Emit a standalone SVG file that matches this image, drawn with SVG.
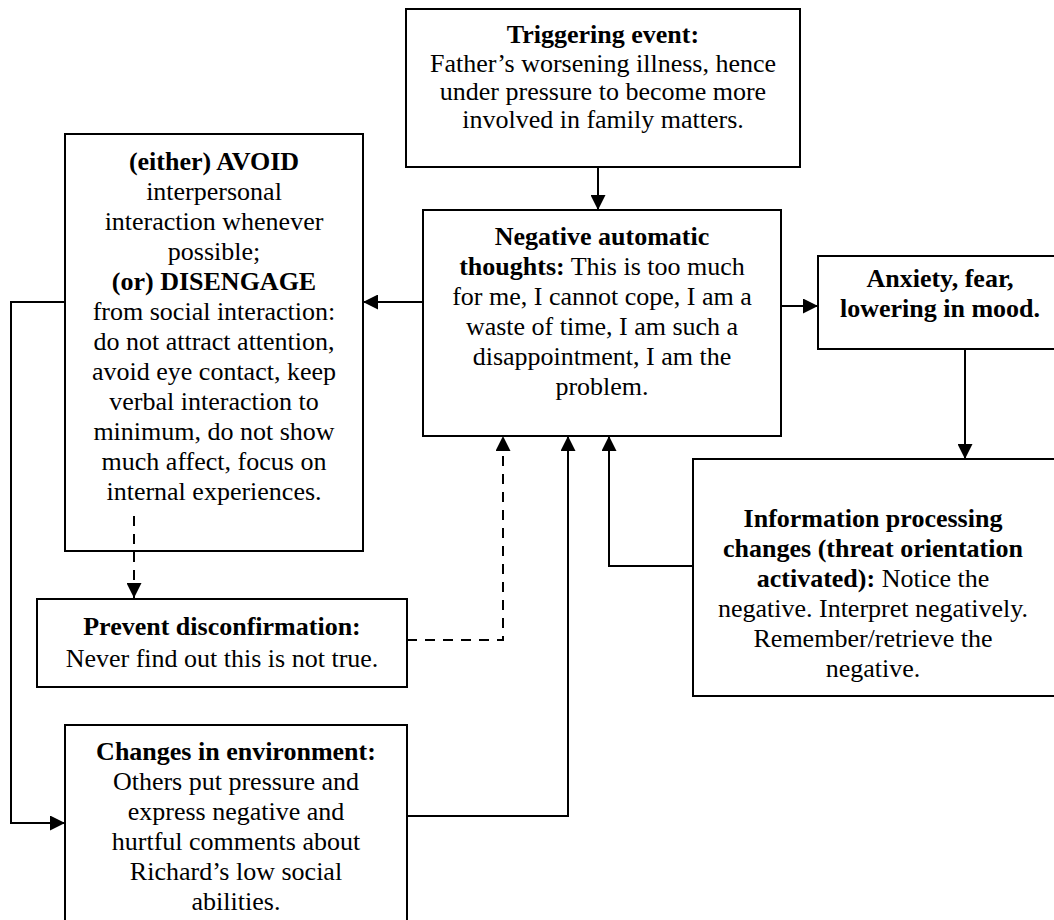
<svg xmlns="http://www.w3.org/2000/svg" width="1054" height="920" viewBox="0 0 1054 920">
<style>
.box{fill:#fff;stroke:#000;stroke-width:2}
.t{font-family:"Liberation Serif","Times New Roman",serif;font-size:26px;fill:#000;text-anchor:middle}
.b{font-weight:bold}
.c{fill:none;stroke:#000;stroke-width:2}
.d{fill:none;stroke:#000;stroke-width:2;stroke-dasharray:10,8}
</style>
<defs>
<marker id="ah" viewBox="0 0 15 15" refX="15" refY="7.5" markerWidth="15" markerHeight="15" orient="auto" markerUnits="userSpaceOnUse">
<path d="M0,0 L15,7.5 L0,15 z" fill="#000"/>
</marker>
</defs>
<rect width="1054" height="920" fill="#fff"/>
<g id="trigger">
<rect class="box" x="406" y="9" width="394" height="158"/>
<text class="t" x="603"><tspan class="b" x="603" y="43">Triggering event:</tspan><tspan x="603" y="72">Father’s worsening illness, hence</tspan><tspan x="603" y="100">under pressure to become more</tspan><tspan x="603" y="128">involved in family matters.</tspan></text>
</g>
<g id="negative">
<rect class="box" x="423" y="210" width="358" height="226"/>
<text class="t" x="602"><tspan class="b" x="602" y="245">Negative automatic</tspan><tspan x="602" y="275"><tspan class="b">thoughts:</tspan> This is too much</tspan><tspan x="602" y="305">for me, I cannot cope, I am a</tspan><tspan x="602" y="335">waste of time, I am such a</tspan><tspan x="602" y="365">disappointment, I am the</tspan><tspan x="602" y="395">problem.</tspan></text>
</g>
<g id="avoid">
<rect class="box" x="65" y="134" width="298" height="417"/>
<text class="t" x="214"><tspan class="b" x="214" y="170">(either) AVOID</tspan><tspan x="214" y="200">interpersonal</tspan><tspan x="214" y="230">interaction whenever</tspan><tspan x="214" y="260">possible;</tspan><tspan class="b" x="214" y="290">(or) DISENGAGE</tspan><tspan x="214" y="320">from social interaction:</tspan><tspan x="214" y="350">do not attract attention,</tspan><tspan x="214" y="380">avoid eye contact, keep</tspan><tspan x="214" y="410">verbal interaction to</tspan><tspan x="214" y="440">minimum, do not show</tspan><tspan x="214" y="470">much affect, focus on</tspan><tspan x="214" y="500">internal experiences.</tspan></text>
</g>
<g id="anxiety">
<rect class="box" x="818" y="256" width="240" height="93"/>
<text class="t b" x="940"><tspan x="940" y="287">Anxiety, fear,</tspan><tspan x="940" y="317">lowering in mood.</tspan></text>
</g>
<g id="info">
<rect class="box" x="693" y="459" width="365" height="237"/>
<text class="t" x="873"><tspan class="b" x="873" y="527">Information processing</tspan><tspan class="b" x="873" y="557">changes (threat orientation</tspan><tspan x="873" y="587"><tspan class="b">activated):</tspan> Notice the</tspan><tspan x="873" y="617">negative. Interpret negatively.</tspan><tspan x="873" y="647">Remember/retrieve the</tspan><tspan x="873" y="677">negative.</tspan></text>
</g>
<g id="prevent">
<rect class="box" x="37" y="599" width="370" height="88"/>
<text class="t" x="222"><tspan class="b" x="222" y="635">Prevent disconfirmation:</tspan><tspan x="222" y="667">Never find out this is not true.</tspan></text>
</g>
<g id="changes">
<rect class="box" x="65" y="725" width="342" height="200"/>
<text class="t" x="236"><tspan class="b" x="236" y="760">Changes in environment:</tspan><tspan x="236" y="790">Others put pressure and</tspan><tspan x="236" y="820">express negative and</tspan><tspan x="236" y="850">hurtful comments about</tspan><tspan x="236" y="880">Richard’s low social</tspan><tspan x="236" y="910">abilities.</tspan></text>
</g>
<g id="connectors">
<path class="c" d="M598,167 L598,210" marker-end="url(#ah)"/>
<path class="c" d="M423,302 L363,302" marker-end="url(#ah)"/>
<path class="c" d="M781,306 L818,306" marker-end="url(#ah)"/>
<path class="c" d="M965,349 L965,459" marker-end="url(#ah)"/>
<path class="c" d="M693,566 L609,566 L609,436" marker-end="url(#ah)"/>
<path class="c" d="M407,816 L568,816 L568,436" marker-end="url(#ah)"/>
<path class="d" d="M407,640 L503,640 L503,436" marker-end="url(#ah)"/>
<path class="d" d="M134,516 L134,598" marker-end="url(#ah)"/>
<path class="c" d="M65,302 L11,302 L11,823 L65,823" marker-end="url(#ah)"/>
</g>
</svg>
